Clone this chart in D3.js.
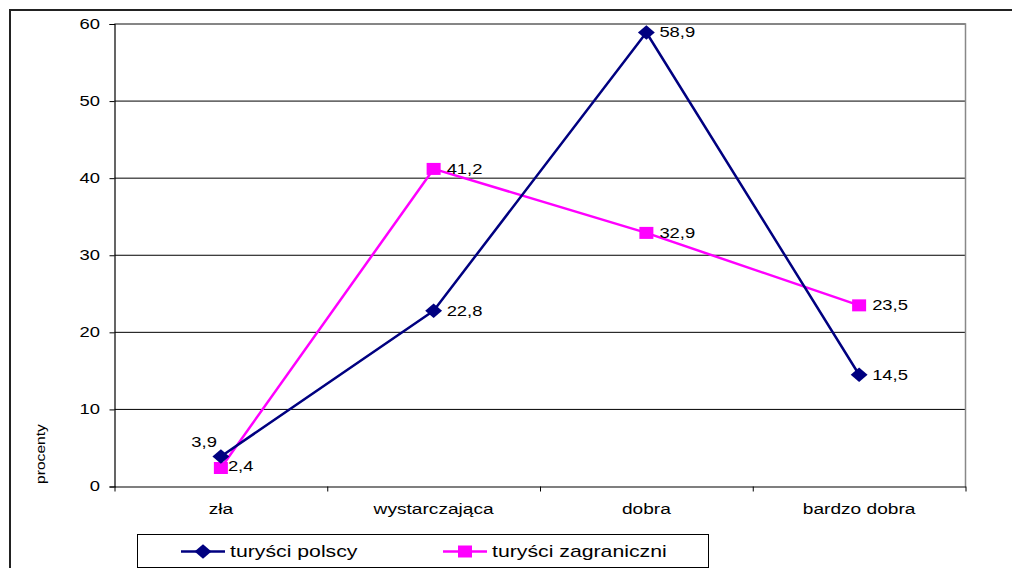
<!DOCTYPE html>
<html>
<head>
<meta charset="utf-8">
<script src="https://cdn.jsdelivr.net/npm/d3@7"></script>
<style>
  html, body { margin: 0; padding: 0; background: #fff; }
  svg { display: block; font-family: "Liberation Sans", Arial, sans-serif; }
</style>
</head>
<body>
<svg id="chart" width="1012" height="568"></svg>
<script>
// Ocena (rating categories) on the x axis
const categories = ["zła", "wystarczająca", "dobra", "bardzo dobra"];
// Share of respondents, in percent
const polscy = [3.9, 22.8, 58.9, 14.5];
const zagraniczni = [2.4, 41.2, 32.9, 23.5];
const seriesNames = ["turyści polscy", "turyści zagraniczni"];
const yTicks = [0, 10, 20, 30, 40, 50, 60];
const yTitle = "procenty";

const NAVY = "#000080", MAGENTA = "#FF00FF";
const SX = 1.27; // wide text rendering

const svg = d3.select("#chart");
const plot = { left: 114.5, right: 965.5, top: 24, bottom: 486.5 };

const x = d3.scaleBand().domain(categories).range([plot.left, plot.right]).paddingInner(0).paddingOuter(0);
const y = d3.scaleLinear().domain([0, 60]).range([plot.bottom, plot.top]);
const cx = c => x(c) + x.bandwidth() / 2;

const pl = d3.formatLocale({ decimal: ",", thousands: " ", grouping: [3], currency: ["", " zł"] });
const fmt = pl.format(".1f");

function wideText(g, tx, ty, str, opts) {
  const o = Object.assign({ size: 14.5, sx: SX, anchor: "start", rotate: 0, baseline: "central" }, opts || {});
  return g.append("text")
    .attr("transform", `translate(${tx},${ty}) rotate(${o.rotate}) scale(${o.sx},1)`)
    .attr("text-anchor", o.anchor)
    .attr("dominant-baseline", o.baseline)
    .attr("font-size", o.size)
    .attr("fill", "#000")
    .text(str);
}

// outer chart frame
svg.append("rect").attr("x", 10).attr("y", 10).attr("width", 1100).attr("height", 700)
  .attr("fill", "none").attr("stroke", "#222").attr("stroke-width", 2);

// horizontal gridlines
const grid = svg.append("g");
grid.selectAll("line").data(yTicks.filter(v => v > 0)).join("line")
  .attr("x1", plot.left).attr("x2", plot.right)
  .attr("y1", d => y(d)).attr("y2", d => y(d))
  .attr("stroke", "#000").attr("stroke-width", 1);

// plot-area border (top and right)
svg.append("path")
  .attr("d", `M${plot.left},${plot.top}H${plot.right}V${plot.bottom}`)
  .attr("fill", "none").attr("stroke", "#888").attr("stroke-width", 1.5);

// y axis
const yAxis = svg.append("g").attr("transform", `translate(${plot.left},0)`)
  .call(d3.axisLeft(y).tickValues(yTicks).tickSize(5).tickPadding(0).tickFormat(""));
yAxis.select(".domain").attr("stroke", "#000").attr("stroke-width", 1.2);
yAxis.selectAll(".tick line").attr("stroke", "#000");
yTicks.forEach(v => wideText(svg, 100, y(v), String(v), { anchor: "end" }));

// x axis with ticks at band boundaries
const bounds = categories.map(c => x(c)).concat([plot.right]);
const xAxis = svg.append("g").attr("transform", `translate(0,${plot.bottom})`)
  .call(d3.axisBottom(d3.scaleLinear().domain([plot.left, plot.right]).range([plot.left, plot.right]))
    .tickValues(bounds).tickSize(5).tickSizeOuter(0).tickFormat(""));
xAxis.select(".domain").attr("stroke", "#000").attr("stroke-width", 1.2);
xAxis.selectAll(".tick line").attr("stroke", "#000");
categories.forEach(c => wideText(svg, cx(c), 509, c, { anchor: "middle", sx: 1.32 }));

// y axis title
wideText(svg, 41, 454, yTitle, { anchor: "middle", rotate: -90, size: 12.5, sx: 1.25 });

// series
const line = d3.line().x((d, i) => cx(categories[i])).y(d => y(d));
const diamond = d3.symbol().type(d3.symbolDiamond2).size(150);

function drawSeries(vals, color, marker) {
  svg.append("path").datum(vals).attr("d", line)
    .attr("fill", "none").attr("stroke", color).attr("stroke-width", 2.5).attr("stroke-linejoin", "round");
  const g = svg.append("g");
  vals.forEach((v, i) => {
    const px = cx(categories[i]), py = y(v);
    if (marker === "diamond") {
      g.append("path").attr("d", diamond).attr("transform", `translate(${px},${py}) scale(1.1,0.95)`).attr("fill", color);
    } else {
      g.append("rect").attr("x", px - 7).attr("y", py - 6).attr("width", 14).attr("height", 12).attr("fill", color);
    }
  });
}
drawSeries(zagraniczni, MAGENTA, "square");
drawSeries(polscy, NAVY, "diamond");

// value labels
const labels = svg.append("g");
polscy.forEach((v, i) => {
  if (i === 0) wideText(labels, cx(categories[i]) - 4, y(v) - 14, fmt(v), { anchor: "end" });
  else wideText(labels, cx(categories[i]) + 13, y(v), fmt(v));
});
zagraniczni.forEach((v, i) => {
  if (i === 0) wideText(labels, cx(categories[i]) + 7, y(v) - 2, fmt(v));
  else wideText(labels, cx(categories[i]) + 13, y(v), fmt(v));
});

// legend
const lg = svg.append("g");
lg.append("rect").attr("x", 137.5).attr("y", 534.5).attr("width", 571).attr("height", 33)
  .attr("fill", "#fff").attr("stroke", "#000").attr("stroke-width", 1);
const legendItems = [
  { name: seriesNames[0], color: NAVY, marker: "diamond", x0: 181 },
  { name: seriesNames[1], color: MAGENTA, marker: "square", x0: 443 }
];
legendItems.forEach(it => {
  const ly = 551.5, mx = it.x0 + 22;
  lg.append("line").attr("x1", it.x0).attr("x2", it.x0 + 44).attr("y1", ly).attr("y2", ly)
    .attr("stroke", it.color).attr("stroke-width", 2.5);
  if (it.marker === "diamond") {
    lg.append("path").attr("d", diamond).attr("transform", `translate(${mx},${ly}) scale(1.1,0.95)`).attr("fill", it.color);
  } else {
    lg.append("rect").attr("x", mx - 7).attr("y", ly - 6).attr("width", 14).attr("height", 12).attr("fill", it.color);
  }
  wideText(lg, it.x0 + 49, ly, it.name, { size: 17, sx: 1.25 });
});
</script>
</body>
</html>
